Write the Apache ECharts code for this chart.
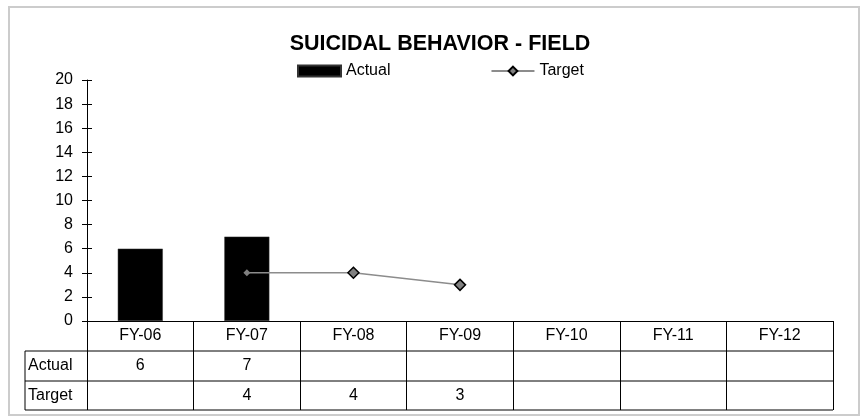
<!DOCTYPE html>
<html><head><meta charset="utf-8">
<script src="https://cdn.jsdelivr.net/npm/echarts@6/dist/echarts.min.js"></script>
<style>html,body{margin:0;padding:0;background:#fff}#c{width:863px;height:416px}</style>
</head><body><div id="c"></div>
<script>
var categories = ['FY-06','FY-07','FY-08','FY-09','FY-10','FY-11','FY-12'];
var actual = [6, 7, null, null, null, null, null];
var target = [null, 4, 4, 3, null, null, null];
var yTicks = {min: 0, max: 20, interval: 2};

var FONT = 'Liberation Sans, Arial, sans-serif';
var FS = 16;
var chart = echarts.init(document.getElementById('c'), null, {renderer: 'canvas'});

var gridLeft = 87, gridRight = 833, gridTop = 80, gridBottom = 321;
var rowH = 30;
var tableLeft = 25;
var tableBottom = gridBottom + rowH * 3 - 1;

function fmt(arr){ return arr.map(function(v){ return v == null ? '' : String(v); }); }

var firstIdx = target.findIndex(function(x){ return x != null; });
var targetData = target.map(function(v, i){
  if (v == null) return null;
  if (i === firstIdx) {
    return {value: v, symbolSize: 7, itemStyle: {color: '#808080', borderWidth: 0}};
  }
  return v;
});

var labelStyle = {fontFamily: FONT, fontSize: FS, color: '#000'};

var option = {
  animation: false,
  backgroundColor: '#fff',
  title: {
    text: 'SUICIDAL BEHAVIOR - FIELD',
    left: 440, top: 33, textAlign: 'center', padding: 0,
    textStyle: {fontFamily: FONT, fontSize: 21.5, fontWeight: 'bold', color: '#000'}
  },
  legend: {
    top: 63, left: 297, padding: 0,
    itemGap: 100,
    itemWidth: 43, itemHeight: 11,
    textStyle: {fontFamily: FONT, fontSize: FS, color: '#000'},
    data: [
      {name: 'Actual', icon: 'rect'},
      {name: 'Target'}
    ]
  },
  grid: {left: gridLeft, right: 863 - gridRight, top: gridTop, bottom: 416 - gridBottom, containLabel: false},
  xAxis: [
    {
      type: 'category', data: categories, boundaryGap: true,
      axisLine: {lineStyle: {color: '#000', width: 1}},
      axisTick: {show: true, length: rowH * 3 - 1, alignWithLabel: false, lineStyle: {color: '#000', width: 1}},
      axisLabel: Object.assign({margin: 7, interval: 0}, labelStyle)
    },
    {
      type: 'category', data: fmt(actual), position: 'bottom', offset: rowH,
      axisLine: {show: false}, axisTick: {show: false},
      axisLabel: Object.assign({margin: 7, interval: 0}, labelStyle)
    },
    {
      type: 'category', data: fmt(target), position: 'bottom', offset: rowH * 2,
      axisLine: {show: false}, axisTick: {show: false},
      axisLabel: Object.assign({margin: 7, interval: 0}, labelStyle)
    }
  ],
  yAxis: [
    {
      type: 'value', min: yTicks.min, max: yTicks.max, interval: yTicks.interval,
      axisLine: {show: true, lineStyle: {color: '#000', width: 1}},
      axisTick: {show: true, length: 5, lineStyle: {color: '#000'}},
      splitLine: {show: false},
      axisLabel: Object.assign({margin: 14}, labelStyle)
    },
    {
      type: 'value', min: yTicks.min, max: yTicks.max, interval: yTicks.interval,
      position: 'left', offset: 0,
      axisLine: {show: false},
      axisTick: {show: true, inside: true, length: 5, lineStyle: {color: '#000'}},
      splitLine: {show: false},
      axisLabel: {show: false}
    }
  ],
  series: [
    {
      name: 'Actual', type: 'bar', data: actual, barWidth: 45,
      itemStyle: {color: '#000', borderColor: '#333', borderWidth: 0.5}
    },
    {
      name: 'Target', type: 'line', data: targetData, connectNulls: false,
      symbol: 'diamond', symbolSize: 11,
      lineStyle: {color: '#8c8c8c', width: 1.5},
      itemStyle: {color: '#808080', borderColor: '#000', borderWidth: 1.5}
    }
  ],
  graphic: [
    {type: 'rect', shape: {x: 9, y: 7, width: 850, height: 408}, style: {fill: null, stroke: '#cccccc', lineWidth: 2}, z: 0, silent: true},
    {type: 'line', shape: {x1: tableLeft, y1: gridBottom + rowH, x2: gridRight, y2: gridBottom + rowH}, style: {stroke: '#000', lineWidth: 1}},
    {type: 'line', shape: {x1: tableLeft, y1: gridBottom + rowH * 2, x2: gridRight, y2: gridBottom + rowH * 2}, style: {stroke: '#000', lineWidth: 1}},
    {type: 'line', shape: {x1: tableLeft, y1: tableBottom, x2: gridRight, y2: tableBottom}, style: {stroke: '#000', lineWidth: 1}},
    {type: 'line', shape: {x1: tableLeft, y1: gridBottom + rowH, x2: tableLeft, y2: tableBottom}, style: {stroke: '#000', lineWidth: 1}},
    {type: 'text', left: tableLeft + 3, top: gridBottom + rowH + 7, style: {text: 'Actual', font: FS + 'px ' + FONT, fill: '#000'}},
    {type: 'text', left: tableLeft + 3, top: gridBottom + rowH * 2 + 7, style: {text: 'Target', font: FS + 'px ' + FONT, fill: '#000'}}
  ]
};
chart.setOption(option);
</script>
</body></html>
